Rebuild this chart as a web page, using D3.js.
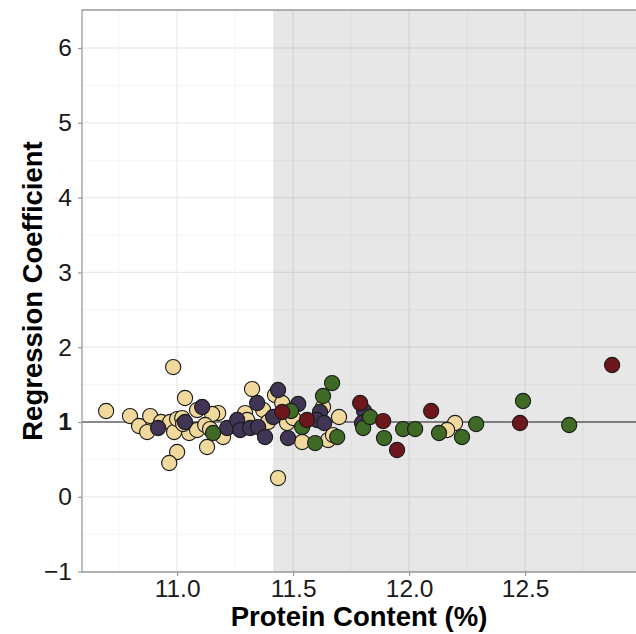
<!DOCTYPE html>
<html><head><meta charset="utf-8">
<script src="https://cdn.jsdelivr.net/npm/d3@7"></script>
<style>body{margin:0;background:#fff}svg{display:block}</style>
</head><body>
<script>
// ---- data ----
const creamX = [10.694,10.797,10.836,10.884,10.871,10.931,10.970,10.987,11.000,11.034,11.052,11.086,11.000,10.966,10.983,11.086,11.177,11.151,11.022,11.026,11.121,11.142,11.198,11.129,11.293,11.323,11.371,11.392,11.435,11.422,11.453,11.474,11.539,11.500,11.629,11.651,11.672,11.698,12.198,12.164,11.302];
const creamY = [1.147,1.080,0.947,1.080,0.866,1.000,1.000,0.866,1.040,1.321,0.853,0.893,0.599,0.452,1.735,1.160,1.120,1.107,1.053,0.973,0.960,0.906,0.799,0.666,1.120,1.441,1.160,1.000,0.251,1.361,1.254,0.987,0.733,1.053,1.201,0.759,0.826,1.067,0.987,0.893,1.027];
const purpleX = [10.918,11.034,11.108,11.216,11.259,11.272,11.315,11.345,11.349,11.379,11.435,11.414,11.522,11.478,11.616,11.603,11.634,11.806,11.797];
const purpleY = [0.920,1.000,1.201,0.920,1.027,0.893,0.920,1.254,0.933,0.799,1.428,1.067,1.241,0.786,1.134,1.027,0.987,1.147,0.987];
const greenX = [11.155,11.491,11.539,11.668,11.629,11.595,11.690,11.802,11.832,11.892,11.974,12.026,12.129,12.228,12.289,12.491,12.690];
const greenY = [0.853,1.147,0.933,1.521,1.348,0.719,0.799,0.920,1.067,0.786,0.906,0.906,0.853,0.799,0.973,1.281,0.960];
const redX = [11.453,11.560,11.789,11.888,11.948,12.095,12.478,12.875];
const redY = [1.134,1.027,1.254,1.013,0.626,1.147,0.987,1.762];
const xTicks = [11.0, 11.5, 12.0, 12.5];
const xMinor = [10.75, 11.25, 11.75, 12.25, 12.75];
const yTicks = [-1, 0, 1, 2, 3, 4, 5, 6];
const yMinor = [-0.5, 0.5, 1.5, 2.5, 3.5, 4.5, 5.5];
const shadeStart = 11.414;
const refLine = 1;
const xTitle = "Protein Content (%)";
const yTitle = "Regression Coefficient";

const series = [
  {x: creamX, y: creamY, color: "#f1d89c"},
  {x: purpleX, y: purpleY, color: "#413556"},
  {x: greenX, y: greenY, color: "#3f6a25"},
  {x: redX, y: redY, color: "#6d171d"}
];

const W = 636, H = 634;
const L = 82, R = 636, T = 10, B = 572;
const x = d3.scaleLinear().domain([10.59, 12.978]).range([L, R]);
const y = d3.scaleLinear().domain([-1.005, 6.508]).range([B, T]);

const svg = d3.select("body").append("svg").attr("width", W).attr("height", H);
const font = "'Liberation Sans', Arial, Helvetica, sans-serif";

// panel background
svg.append("rect").attr("x", L).attr("y", T).attr("width", R - L).attr("height", B - T).attr("fill", "#fff");
const grid = svg.append("g");
grid.selectAll(".xm").data(xMinor).join("line")
  .attr("x1", d => x(d)).attr("x2", d => x(d)).attr("y1", T).attr("y2", B)
  .attr("stroke", "#f3f3f3").attr("stroke-width", 0.8);
grid.selectAll(".ym").data(yMinor).join("line")
  .attr("y1", d => y(d)).attr("y2", d => y(d)).attr("x1", L).attr("x2", R)
  .attr("stroke", "#f3f3f3").attr("stroke-width", 0.8);
grid.selectAll(".xM").data(xTicks).join("line")
  .attr("x1", d => x(d)).attr("x2", d => x(d)).attr("y1", T).attr("y2", B)
  .attr("stroke", "#ebebeb").attr("stroke-width", 1.3);
grid.selectAll(".yM").data(yTicks).join("line")
  .attr("y1", d => y(d)).attr("y2", d => y(d)).attr("x1", L).attr("x2", R)
  .attr("stroke", "#ebebeb").attr("stroke-width", 1.3);

// shaded region
svg.append("rect").attr("x", x(shadeStart)).attr("y", T)
  .attr("width", R - x(shadeStart)).attr("height", B - T)
  .attr("fill", "#000").attr("fill-opacity", 0.095);

// reference line
svg.append("line").attr("x1", L).attr("x2", R).attr("y1", y(refLine)).attr("y2", y(refLine))
  .attr("stroke", "#222").attr("stroke-width", 1.2);

// points
const pts = svg.append("g");
series.forEach(s => {
  pts.append("g").selectAll("circle").data(s.x.map((v, i) => [v, s.y[i]])).join("circle")
    .attr("cx", d => x(d[0])).attr("cy", d => y(d[1])).attr("r", 7.6)
    .attr("fill", s.color).attr("stroke", "#1a1a1a").attr("stroke-width", 1.1);
});

// border (top, left, bottom)
svg.append("path").attr("d", `M${R},${T}H${L}V${B}H${R}`).attr("fill", "none")
  .attr("stroke", "#9a9a9a").attr("stroke-width", 1.3);

// axes
const xAxis = svg.append("g").attr("transform", `translate(0,${B})`)
  .call(d3.axisBottom(x).tickValues(xTicks).tickFormat(d3.format(".1f")).tickSize(4).tickPadding(4));
const yAxis = svg.append("g").attr("transform", `translate(${L},0)`)
  .call(d3.axisLeft(y).tickValues(yTicks).tickFormat(d => d < 0 ? "\u2212" + Math.abs(d) : d).tickSize(4).tickPadding(6));
[xAxis, yAxis].forEach(a => {
  a.select(".domain").remove();
  a.selectAll(".tick line").attr("stroke", "#9a9a9a").attr("stroke-width", 1.2);
  a.selectAll(".tick text").attr("fill", "#1a1a1a").attr("font-family", font).attr("font-size", 24.5);
});
yAxis.selectAll(".tick text").filter(d => d === 1).attr("font-weight", "bold");

svg.append("text").attr("x", (L + R) / 2).attr("y", 626).attr("text-anchor", "middle")
  .attr("font-family", font).attr("font-weight", "bold").attr("font-size", 27.5).attr("fill", "#000").text(xTitle);
svg.append("text").attr("transform", `translate(42,${(T + B) / 2}) rotate(-90)`).attr("text-anchor", "middle")
  .attr("font-family", font).attr("font-weight", "bold").attr("font-size", 27.5).attr("fill", "#000").text(yTitle);
</script>
</body></html>
